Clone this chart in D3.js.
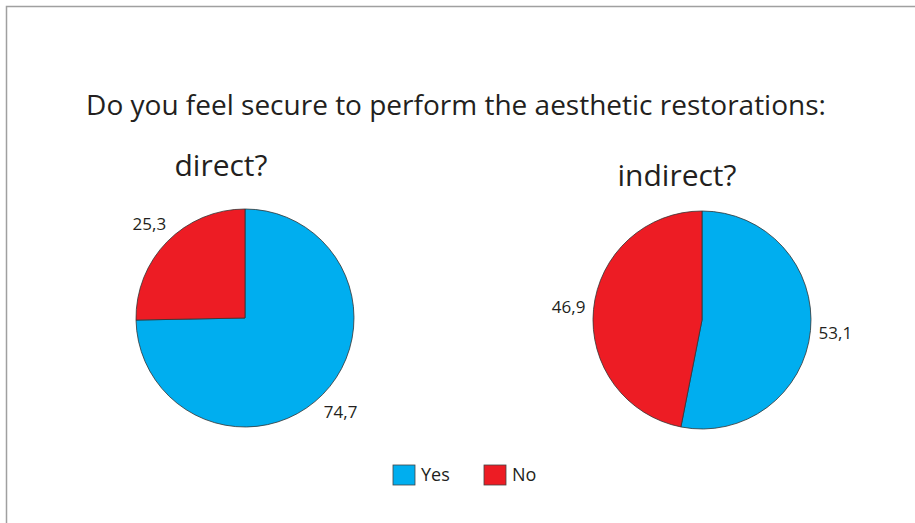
<!DOCTYPE html>
<html><head><meta charset="utf-8">
<script src="https://cdn.jsdelivr.net/npm/d3@7"></script>
<style>html,body{margin:0;padding:0;background:#fff;}svg{display:block;}</style>
</head><body>
<svg id="c" width="915" height="523"></svg>
<script>
const categories = ["Yes", "No"];
const directValues = [74.7, 25.3];
const indirectValues = [53.1, 46.9];
const charts = [
  {title: "direct?", values: directValues},
  {title: "indirect?", values: indirectValues}
];
const mainTitle = "Do you feel secure to perform the aesthetic restorations:";
const colors = ["#00AEEF", "#ED1C24"];

const svg = d3.select("#c");
const font = "'Open Sans', Roboto, sans-serif";

svg.append("rect").attr("x", 6.5).attr("y", 6.5).attr("width", 1000).attr("height", 1000)
  .attr("fill", "none").attr("stroke", "#a0a0a0").attr("stroke-width", 1.5);

svg.append("text").attr("x", 456).attr("y", 115).attr("text-anchor", "middle")
  .attr("font-family", font).attr("font-size", 28).attr("fill", "#231f20").text(mainTitle);

const color = d3.scaleOrdinal().domain(categories).range(colors);
const pie = d3.pie().sort(null).value(d => d.v);
const layout = [
  {cx: 245, cy: 318, r: 109, tx: 221, ty: 176},
  {cx: 702, cy: 320, r: 109, tx: 677, ty: 186}
];

charts.forEach((ch, i) => {
  const L = layout[i];
  const data = categories.map((c, j) => ({c, v: ch.values[j]}));
  const arcs = pie(data);
  const arc = d3.arc().innerRadius(0).outerRadius(L.r);
  const labelArc = d3.arc().innerRadius(L.r + 25).outerRadius(L.r + 25);
  const g = svg.append("g").attr("transform", `translate(${L.cx},${L.cy})`);
  g.selectAll("path").data(arcs).join("path")
    .attr("d", arc).attr("fill", d => color(d.data.c))
    .attr("stroke", "#333").attr("stroke-width", 0.8);
  g.selectAll("text").data(arcs).join("text")
    .attr("transform", d => `translate(${labelArc.centroid(d)})`)
    .attr("text-anchor", "middle").attr("dy", "0.35em")
    .attr("font-family", font).attr("font-size", 17).attr("fill", "#231f20")
    .text(d => d3.format(".1f")(d.data.v).replace(".", ","));
  svg.append("text").attr("x", L.tx).attr("y", L.ty).attr("text-anchor", "middle")
    .attr("font-family", font).attr("font-size", 30).attr("fill", "#231f20").text(ch.title);
});

const lg = svg.append("g").attr("transform", "translate(393,465)");
const items = lg.selectAll("g").data(categories).join("g")
  .attr("transform", (d, i) => `translate(${i * 91},0)`);
items.append("rect").attr("width", 22).attr("height", 20)
  .attr("fill", d => color(d)).attr("stroke", "#444").attr("stroke-width", 0.8);
items.append("text").attr("x", 28).attr("y", 10).attr("dy", "0.35em")
  .attr("font-family", font).attr("font-size", 18).attr("fill", "#231f20").text(d => d);
</script>
</body></html>
